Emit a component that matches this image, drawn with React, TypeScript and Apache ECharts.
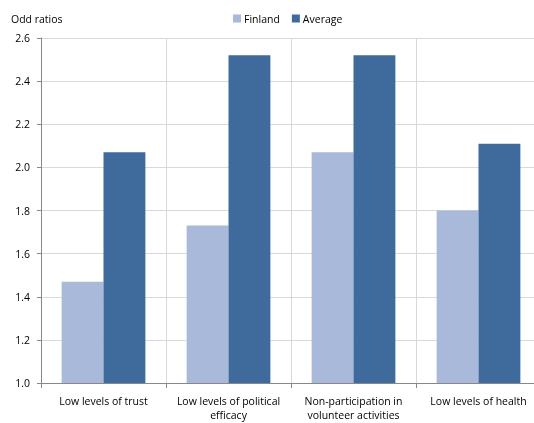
import React, { useEffect, useRef } from "react";
import * as echarts from "echarts";

const categories = [
  "Low levels of trust",
  "Low levels of political\nefficacy",
  "Non-participation in\nvolunteer activities",
  "Low levels of health",
];
const finland = [1.47, 1.73, 2.07, 1.8];
const average = [2.07, 2.52, 2.52, 2.11];
const yTicks = { min: 1.0, max: 2.6, interval: 0.2 };

const FONT = "'Open Sans', 'Noto Sans', sans-serif";

export default function App() {
  const ref = useRef<HTMLDivElement>(null);
  useEffect(() => {
    if (!ref.current) return;
    const chart = echarts.init(ref.current, null, { renderer: "svg" });
    chart.setOption({
      animation: false,
      textStyle: { fontFamily: FONT },
      title: {
        text: "Odd ratios",
        left: 6,
        top: 8,
        textStyle: { fontSize: 10.5, fontWeight: "normal", color: "#000", fontFamily: FONT },
      },
      legend: {
        data: ["Finland", "Average"],
        top: 8,
        left: 228,
        itemWidth: 8,
        itemHeight: 8,
        itemGap: 12,
        icon: "rect",
        textStyle: { fontSize: 10.5, color: "#000", fontFamily: FONT, padding: [0, 0, 0, -2] },
      },
      grid: {
        left: 41,
        right: 19,
        top: 38,
        bottom: 40,
        containLabel: false,
        outerBoundsMode: "none",
      },
      xAxis: {
        type: "category",
        data: categories,
        axisLine: { show: true, lineStyle: { color: "#888", width: 1 } },
        axisTick: { show: true, length: 5, alignWithLabel: false, lineStyle: { color: "#888" } },
        splitLine: { show: true, lineStyle: { color: "#d9d9d9", width: 1 } },
        axisLabel: {
          fontSize: 10.5,
          color: "#000",
          fontFamily: FONT,
          margin: 11,
          lineHeight: 14,
          interval: 0,
        },
      },
      yAxis: {
        type: "value",
        min: yTicks.min,
        max: yTicks.max,
        interval: yTicks.interval,
        axisLine: { show: true, lineStyle: { color: "#888", width: 1 } },
        axisTick: { show: true, length: 4, lineStyle: { color: "#888" } },
        splitLine: { show: true, lineStyle: { color: "#d9d9d9", width: 1 } },
        axisLabel: {
          fontSize: 10.5,
          color: "#000",
          fontFamily: FONT,
          margin: 11,
          formatter: (v: number) => v.toFixed(1),
        },
      },
      series: [
        {
          name: "Finland",
          type: "bar",
          data: finland,
          itemStyle: { color: "#A9B9D9" },
          barGap: "0%",
          barCategoryGap: "33%",
        },
        {
          name: "Average",
          type: "bar",
          data: average,
          itemStyle: { color: "#3F6A9C" },
          barGap: "0%",
          barCategoryGap: "33%",
        },
      ],
    });
    return () => chart.dispose();
  }, []);
  return (
    <div style={{ position: "fixed", left: 0, top: 0, width: 534, height: 423, overflow: "hidden" }}>
      <div ref={ref} style={{ width: 560, height: 423 }} />
    </div>
  );
}
